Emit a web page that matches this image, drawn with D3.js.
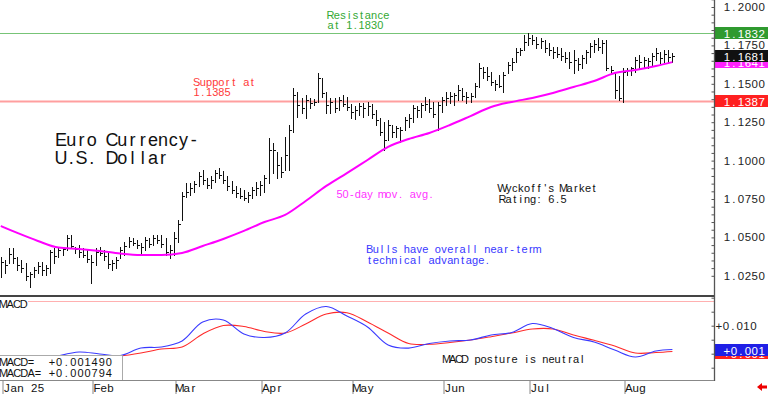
<!DOCTYPE html>
<html>
<head>
<meta charset="utf-8">
<script src="https://cdn.jsdelivr.net/npm/d3@7"></script>
<style>
  body { margin: 0; background: #fff; }
  svg { display: block; }
  text { white-space: pre; }
</style>
</head>
<body>
<script>
// Euro currency futures, daily bars Jan 2 - Aug 19 2025
const monthLabels = ['Jan 25', 'Feb', 'Mar', 'Apr', 'May', 'Jun', 'Jul', 'Aug'];
const priceTicks = [1.2000, 1.1750, 1.1500, 1.1250, 1.1000, 1.0750, 1.0500, 1.0250];

const highs = [
  1.0373,1.0353,1.0431,1.0431,1.0373,1.0353,1.0334,1.0275,1.0307,1.0340,
  1.0340,1.0320,1.0418,1.0431,1.0438,1.0438,1.0516,1.0516,1.0438,1.0451,
  1.0431,1.0418,1.0386,1.0431,1.0438,1.0418,1.0405,1.0353,1.0373,1.0438,
  1.0470,1.0503,1.0496,1.0483,1.0464,1.0503,1.0496,1.0516,1.0516,1.0516,
  1.0496,1.0451,1.0535,1.0613,1.0796,1.0854,1.0854,1.0867,1.0926,1.0939,
  1.0887,1.0900,1.0939,1.0952,1.0932,1.0900,1.0867,1.0835,1.0822,1.0809,
  1.0796,1.0828,1.0861,1.0867,1.0906,1.1147,1.1115,1.1056,1.1024,1.1154,
  1.1232,1.1473,1.1447,1.1408,1.1427,1.1408,1.1401,1.1570,1.1538,1.1447,
  1.1408,1.1408,1.1414,1.1427,1.1414,1.1369,1.1356,1.1375,1.1375,1.1382,
  1.1369,1.1329,1.1277,1.1251,1.1264,1.1232,1.1225,1.1219,1.1284,1.1303,
  1.1362,1.1356,1.1375,1.1414,1.1401,1.1382,1.1382,1.1414,1.1447,1.1447,
  1.1440,1.1492,1.1473,1.1447,1.1440,1.1505,1.1636,1.1609,1.1609,1.1577,
  1.1525,1.1557,1.1577,1.1642,1.1668,1.1733,1.1733,1.1818,1.1831,1.1818,
  1.1805,1.1798,1.1785,1.1766,1.1740,1.1740,1.1733,1.1707,1.1707,1.1720,
  1.1668,1.1688,1.1720,1.1766,1.1785,1.1798,1.1785,1.1785,1.1616,1.1577,
  1.1551,1.1603,1.1603,1.1609,1.1675,1.1688,1.1675,1.1668,1.1701,1.1733,
  1.1707,1.1720,1.1720,1.1701
];
const lows = [
  1.0242,1.0268,1.0334,1.0334,1.0288,1.0275,1.0223,1.0177,1.0242,1.0268,
  1.0255,1.0255,1.0268,1.0334,1.0373,1.0386,1.0418,1.0431,1.0399,1.0373,
  1.0373,1.0340,1.0203,1.0320,1.0386,1.0353,1.0301,1.0288,1.0301,1.0366,
  1.0386,1.0438,1.0451,1.0431,1.0399,1.0418,1.0438,1.0451,1.0464,1.0438,
  1.0386,1.0366,1.0386,1.0470,1.0613,1.0763,1.0776,1.0796,1.0835,1.0848,
  1.0822,1.0822,1.0861,1.0887,1.0854,1.0809,1.0789,1.0763,1.0757,1.0744,
  1.0731,1.0757,1.0776,1.0776,1.0796,1.0854,1.0919,1.0887,1.0893,1.0939,
  1.0939,1.1186,1.1284,1.1310,1.1277,1.1343,1.1362,1.1382,1.1414,1.1310,
  1.1310,1.1316,1.1329,1.1356,1.1329,1.1277,1.1271,1.1297,1.1284,1.1297,
  1.1277,1.1232,1.1167,1.1069,1.1134,1.1154,1.1154,1.1121,1.1199,1.1219,
  1.1251,1.1284,1.1284,1.1329,1.1316,1.1284,1.1199,1.1316,1.1362,1.1375,
  1.1362,1.1395,1.1395,1.1375,1.1382,1.1414,1.1479,1.1538,1.1525,1.1492,
  1.1460,1.1479,1.1447,1.1570,1.1590,1.1642,1.1688,1.1720,1.1753,1.1759,
  1.1733,1.1733,1.1707,1.1688,1.1668,1.1675,1.1655,1.1642,1.1603,1.1570,
  1.1590,1.1603,1.1636,1.1675,1.1707,1.1720,1.1701,1.1590,1.1570,1.1408,
  1.1395,1.1382,1.1557,1.1557,1.1577,1.1603,1.1609,1.1603,1.1622,1.1655,
  1.1636,1.1642,1.1636,1.1642
];
const closes = [
  1.0340,1.0320,1.0392,1.0366,1.0320,1.0301,1.0249,1.0262,1.0288,1.0314,
  1.0288,1.0301,1.0405,1.0379,1.0418,1.0425,1.0496,1.0444,1.0425,1.0405,
  1.0386,1.0360,1.0340,1.0405,1.0399,1.0379,1.0327,1.0334,1.0353,1.0418,
  1.0444,1.0477,1.0464,1.0451,1.0438,1.0483,1.0457,1.0496,1.0483,1.0457,
  1.0405,1.0418,1.0496,1.0587,1.0770,1.0796,1.0822,1.0848,1.0900,1.0874,
  1.0841,1.0874,1.0919,1.0906,1.0874,1.0835,1.0809,1.0789,1.0770,1.0757,
  1.0776,1.0809,1.0822,1.0841,1.0887,1.1069,1.1069,1.0971,1.0926,1.1036,
  1.1199,1.1427,1.1362,1.1343,1.1395,1.1375,1.1382,1.1538,1.1440,1.1362,
  1.1382,1.1343,1.1395,1.1369,1.1349,1.1316,1.1329,1.1356,1.1343,1.1356,
  1.1303,1.1264,1.1186,1.1134,1.1232,1.1186,1.1212,1.1199,1.1264,1.1277,
  1.1343,1.1329,1.1362,1.1369,1.1343,1.1303,1.1362,1.1395,1.1408,1.1421,
  1.1427,1.1460,1.1421,1.1414,1.1421,1.1486,1.1603,1.1577,1.1551,1.1512,
  1.1499,1.1486,1.1557,1.1622,1.1642,1.1707,1.1720,1.1772,1.1798,1.1785,
  1.1759,1.1779,1.1733,1.1720,1.1707,1.1694,1.1681,1.1668,1.1642,1.1655,
  1.1629,1.1668,1.1707,1.1746,1.1759,1.1740,1.1766,1.1603,1.1590,1.1460,
  1.1408,1.1577,1.1590,1.1603,1.1655,1.1642,1.1655,1.1648,1.1681,1.1701,
  1.1668,1.1694,1.1675,1.1681
];

// 50-day average and MACD read roughly once a week
const movingAvg = [
  1.0574,1.0529,1.0477,1.0434,1.0425,1.0412,1.0395,1.0386,1.0386,1.0399,
  1.0444,1.0490,1.0542,1.0600,1.0646,1.0737,1.0835,1.0919,1.1004,1.1089,
  1.1141,1.1180,1.1232,1.1290,1.1349,1.1382,1.1408,1.1440,1.1479,1.1518,
  1.1570,1.1590,1.1616,1.1641
];
const macdLine = [
  -0.00296,-0.00404,-0.00296,-0.00082,0.00061,-0.00011,-0.00064,0.00204,0.00239,0.00454,
  0.01132,0.01204,0.00704,0.00579,0.00739,0.01418,0.01686,0.01346,0.00954,0.00310,
  0.00200,0.00364,0.00454,0.00489,0.00668,0.00757,0.01079,0.00900,0.00579,0.00418,
  0.00132,-0.00118,0.00096,0.00149
];
const macdAvg = [
  -0.00225,-0.00332,-0.00296,-0.00225,-0.00154,-0.00118,-0.00082,0.00025,0.00168,0.00239,
  0.00704,0.01007,0.00971,0.00793,0.00739,0.01061,0.01418,0.01464,0.01132,0.00739,
  0.00364,0.00336,0.00400,0.00489,0.00608,0.00739,0.00882,0.00882,0.00668,0.00479,
  0.00275,0.00025,0.00043,0.000794
];

const resistance = 1.1830;
const support = 1.1385;
const resistanceMark = 1.1832;
const supportMark = 1.1387;
const macdNow = 0.001490;
const macdaNow = 0.000794;
const macdUpper = 0.0188;
const rating = '6.5';

const tradingDays = d3.utcDays(new Date(Date.UTC(2025, 0, 2)), new Date(Date.UTC(2025, 7, 20)))
  .filter(d => d.getUTCDay() > 0 && d.getUTCDay() < 6);
const lineDays = [0, ...d3.range(4, 160, 5), 163];

const width = 768, height = 394;
const plotRight = 714;

const svg = d3.select('body').append('svg')
  .attr('width', width)
  .attr('height', height);

const x = d3.scaleLinear().domain([0, tradingDays.length - 1]).range([0.8, 672.4]);
const y = d3.scaleLinear().domain([1.025, 1.2]).range([275.8, 7]);
const yM = d3.scaleLinear().domain([-0.01, 0.02]).range([381.7, 297.7]);

const FONT = '"Liberation Sans", Arial, sans-serif';

// fixed pitch text, the way the old charting package lays it out
function pitchText(g, str, x0, yBase, pitch, size, color) {
  const chars = Array.from(str);
  return g.append('text')
    .attr('x', chars.map((c, i) => (x0 + pitch * (i + 0.5)).toFixed(2)).join(' '))
    .attr('y', yBase)
    .attr('text-anchor', 'middle')
    .attr('font-family', FONT)
    .attr('font-size', size)
    .attr('fill', color)
    .text(str);
}

const defs = svg.append('defs');
defs.append('clipPath').attr('id', 'clipPrice')
  .append('rect').attr('x', 0).attr('y', 0).attr('width', plotRight).attr('height', 295);
defs.append('clipPath').attr('id', 'clipMacd')
  .append('rect').attr('x', 0).attr('y', 297).attr('width', plotRight).attr('height', 83);

const price = svg.append('g').attr('clip-path', 'url(#clipPrice)');

// resistance / support
price.append('line')
  .attr('x1', 0).attr('x2', plotRight)
  .attr('y1', Math.round(y(resistance)) + 0.5).attr('y2', Math.round(y(resistance)) + 0.5)
  .attr('stroke', '#77c477').attr('stroke-width', 1.2);
price.append('line')
  .attr('x1', 0).attr('x2', plotRight)
  .attr('y1', y(support)).attr('y2', y(support))
  .attr('stroke', '#ff9f9f').attr('stroke-width', 2);

// bars
const barG = price.append('g').attr('stroke', '#111').attr('stroke-width', 1);
tradingDays.forEach((d, i) => {
  const xc = Math.round(x(i)) + 0.5;
  barG.append('line')
    .attr('x1', xc).attr('x2', xc)
    .attr('y1', Math.round(y(highs[i]))).attr('y2', Math.round(y(lows[i])) + 1);
  const yc = Math.round(y(closes[i])) + 0.5;
  barG.append('line')
    .attr('x1', xc).attr('x2', xc + 2.5)
    .attr('y1', yc).attr('y2', yc);
});

// 50-day moving average
price.append('path')
  .datum(movingAvg)
  .attr('fill', 'none')
  .attr('stroke', '#ff00ff')
  .attr('stroke-width', 2)
  .attr('d', d3.line().x((d, j) => x(lineDays[j])).y(d => y(d)).curve(d3.curveMonotoneX));

// annotations
pitchText(svg, 'Resistance', 327.5, 19, 6.2, 11, '#33a833');
pitchText(svg, 'at 1.1830', 327.5, 29, 6.2, 11, '#33a833');
pitchText(svg, 'Support at', 193.5, 86, 6.2, 11, '#ff3a3a');
pitchText(svg, '1.1385', 193.5, 96, 6.2, 11, '#ff3a3a');
pitchText(svg, 'Euro Currency-', 56, 146, 10.2, 18, '#111');
pitchText(svg, 'U.S. Dollar', 56, 164, 10.2, 18, '#111');
pitchText(svg, '50-day mov. avg.', 336.5, 197.5, 6.1, 11, '#ff33ff');
pitchText(svg, "Wyckoff's Market", 499.5, 191.5, 6.1, 11, '#111');
pitchText(svg, 'Rating: ' + rating, 499.5, 202.5, 6.1, 11, '#111');
pitchText(svg, 'Bulls have overall near-term', 366.5, 252.5, 6.2, 11, '#3838ff');
pitchText(svg, 'technical advantage.', 366.5, 263.5, 6.2, 11, '#3838ff');

// price axis
const priceMinor = d3.range(1.025, 1.2051, 0.005);
svg.append('g')
  .attr('transform', `translate(${plotRight + 0.5},0)`)
  .call(d3.axisLeft(y).tickValues(priceMinor).tickSize(3).tickFormat(''))
  .call(g => g.select('.domain').remove())
  .selectAll('line').attr('stroke', '#555');

priceTicks.forEach(v => {
  pitchText(svg, d3.format('.4f')(v), 723.5, y(v) + 4, 6.95, 11.5, '#222');
});

function valueBox(v, yPos, bg, fmt) {
  svg.append('rect')
    .attr('x', plotRight + 1).attr('y', Math.round(yPos) - 6)
    .attr('width', width - plotRight - 1).attr('height', 12)
    .attr('fill', bg);
  pitchText(svg, fmt(v), 723.5, Math.round(yPos) + 4.5, 6.95, 11.5, '#fff');
}
valueBox(resistanceMark, y(resistanceMark), '#2f9a2f', d3.format('.4f'));
valueBox(movingAvg[movingAvg.length - 1], y(movingAvg[movingAvg.length - 1]), '#ff22ff', d3.format('.4f'));
valueBox(closes[closes.length - 1], y(closes[closes.length - 1]), '#111', d3.format('.4f'));
valueBox(supportMark, y(supportMark), '#ff2020', d3.format('.4f'));

// panel divider
svg.append('line')
  .attr('x1', 0).attr('x2', plotRight)
  .attr('y1', 296).attr('y2', 296)
  .attr('stroke', '#444').attr('stroke-width', 2);

// MACD panel
const macdG = svg.append('g').attr('clip-path', 'url(#clipMacd)');
macdG.append('line')
  .attr('x1', 28).attr('x2', plotRight)
  .attr('y1', Math.round(yM(macdUpper)) + 0.5).attr('y2', Math.round(yM(macdUpper)) + 0.5)
  .attr('stroke', '#ffb0b0');

const macdPath = d3.line().x((d, j) => x(lineDays[j])).y(d => yM(d)).curve(d3.curveCatmullRom);
macdG.append('path').datum(macdAvg)
  .attr('fill', 'none').attr('stroke', '#ff2a2a').attr('stroke-width', 1.1)
  .attr('d', macdPath);
macdG.append('path').datum(macdLine)
  .attr('fill', 'none').attr('stroke', '#3a3aff').attr('stroke-width', 1.1)
  .attr('d', macdPath);

pitchText(svg, 'MACD', 0, 307.5, 6.8, 11, '#111');
pitchText(svg, 'MACD posture is neutral', 443.5, 362.5, 6.17, 11, '#111');

// readout box
svg.append('rect')
  .attr('x', 0).attr('y', 355).attr('width', 122).attr('height', 25)
  .attr('fill', '#fff');
svg.append('path')
  .attr('d', 'M0,355.5H122.5V380')
  .attr('fill', 'none').attr('stroke', '#aaa');
pitchText(svg, 'MACD=', 0, 365.5, 6.9, 11, '#111');
pitchText(svg, 'MACDA=', 0, 376.5, 6.9, 11, '#111');
pitchText(svg, d3.format('+.6f')(macdNow), 48.5, 365.5, 7.1, 11, '#111');
pitchText(svg, d3.format('+.6f')(macdaNow), 48.5, 376.5, 7.1, 11, '#111');

svg.append('g')
  .attr('transform', `translate(${plotRight + 0.5},0)`)
  .call(d3.axisLeft(yM).tickValues([-0.005, 0, 0.005, 0.01, 0.015, 0.02]).tickSize(3).tickFormat(''))
  .call(g => g.select('.domain').remove())
  .selectAll('line').attr('stroke', '#555');
pitchText(svg, d3.format('+.3f')(0.01), 715.5, yM(0.01) + 4, 6.9, 11.5, '#222');

valueBox(macdaNow, yM(macdaNow) + 2, '#ff2020', d3.format('+.3f'));
valueBox(macdNow, yM(macdNow), '#1f1fe6', d3.format('+.3f'));

// right axis line and bottom line
svg.append('line')
  .attr('x1', plotRight + 0.5).attr('x2', plotRight + 0.5)
  .attr('y1', 0).attr('y2', 381)
  .attr('stroke', '#555').attr('stroke-width', 1.3);
svg.append('line')
  .attr('x1', 0).attr('x2', plotRight)
  .attr('y1', 380.5).attr('y2', 380.5)
  .attr('stroke', '#888');

// month axis
const monthStarts = monthLabels.map((m, k) => tradingDays.findIndex(d => d.getUTCMonth() === k));
svg.append('g')
  .attr('transform', 'translate(0,380)')
  .call(d3.axisBottom(x).tickValues(monthStarts).tickSize(14).tickFormat(''))
  .call(g => g.select('.domain').remove())
  .selectAll('line')
  .attr('stroke', '#888')
  .attr('transform', d => `translate(${Math.round(x(d)) + 1.5 - x(d)},0)`);
monthStarts.forEach((idx, k) => {
  pitchText(svg, monthLabels[k], Math.round(x(idx)) + 2.5, 391.5, 6.8, 11.5, '#111');
});

// little red arrow in the corner
svg.append('path')
  .attr('d', 'M757,387L762,383V385.5H767V388.5H762V391Z')
  .attr('fill', '#e00');
</script>
</body>
</html>
